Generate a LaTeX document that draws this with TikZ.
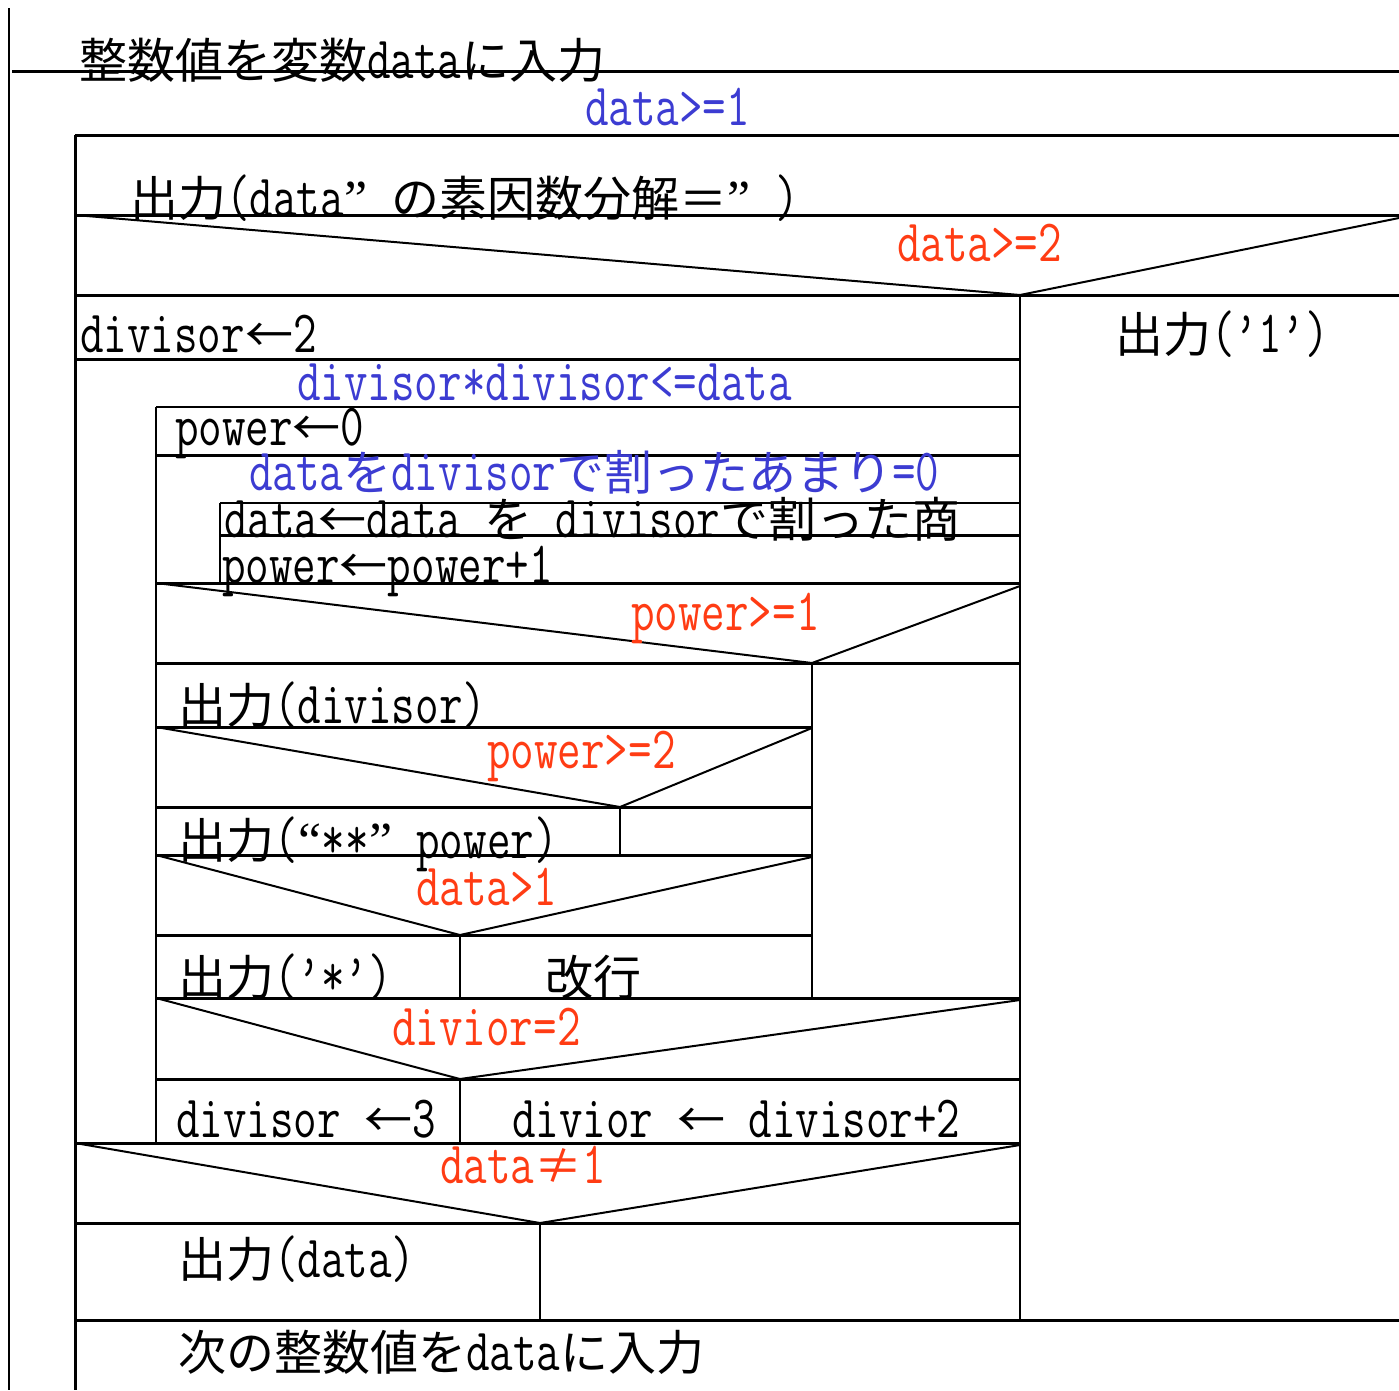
\documentclass[tikz,border=0pt]{standalone}
\usepackage{fontspec}
\newfontfamily\jpfont{Noto Sans CJK JP}
\newfontfamily\ltfont[FakeStretch=0.762]{Latin Modern Mono}
\newfontfamily\qtfont{Liberation Serif}
\newcommand\JpTxt[1]{{\jpfont\fontsize{48}{48}\selectfont #1}}
\newcommand\LatTxt[1]{{\ltfont\fontsize{60}{60}\selectfont #1}}
\newcommand\QtTxt[1]{\makebox[24pt]{\qtfont\fontsize{52}{52}\selectfont #1}}
\definecolor{nsblue}{RGB}{60,60,210}
\definecolor{nsred}{RGB}{255,60,20}
\tikzset{
  hl/.style={line width=3pt},
  vl/.style={line width=2pt},
  dg/.style={line width=2pt},
  txt/.style={inner sep=0pt, anchor=base west},
  cblue/.style={txt, text=nsblue},
  cred/.style={txt, text=nsred}
}
\begin{document}
\begin{tikzpicture}[x=1pt,y=-1pt]
\useasboundingbox (0,0) rectangle (1399,1390);
% horizontal lines
\draw[hl] (12,71)--(1399,71);
\draw[hl] (75,135)--(1399,135);
\draw[hl] (75,215)--(1399,215);
\draw[hl] (75,295)--(1399,295);
\draw[hl] (75,359)--(1020,359);
\draw[vl] (156,407)--(1020,407);
\draw[hl] (156,455)--(1020,455);
\draw[vl] (220,503)--(1020,503);
\draw[hl] (220,535)--(1020,535);
\draw[hl] (156,583)--(1020,583);
\draw[hl] (156,663)--(1020,663);
\draw[hl] (156,727)--(812,727);
\draw[hl] (156,807)--(812,807);
\draw[hl] (156,855)--(812,855);
\draw[hl] (156,935)--(812,935);
\draw[hl] (156,998)--(1020,998);
\draw[hl] (156,1079)--(1020,1079);
\draw[hl] (75,1143)--(1020,1143);
\draw[hl] (75,1223)--(1020,1223);
\draw[hl] (75,1320)--(1399,1320);
% vertical lines
\draw[vl] (9,8)--(9,1390);
\draw[hl] (75,135)--(75,1390);
\draw[vl] (1020,295)--(1020,1320);
\draw[vl] (156,407)--(156,1143);
\draw[vl] (220,503)--(220,583);
\draw[vl] (812,663)--(812,998);
\draw[vl] (620,807)--(620,855);
\draw[vl] (460,935)--(460,998);
\draw[vl] (460,1079)--(460,1143);
\draw[vl] (540,1223)--(540,1320);
% decision diagonals
\draw[dg] (75,215)--(1020,295)--(1399,218);
\draw[dg] (156,583)--(812,663)--(1020,586);
\draw[dg] (156,727)--(620,807)--(812,728);
\draw[dg] (156,855)--(460,935)--(812,857);
\draw[dg] (156,998)--(460,1079)--(1020,1000);
\draw[dg] (75,1143)--(540,1223)--(1020,1145);
% texts
\node[txt] (t1) at (79,78) {\JpTxt{整数値を変数}\LatTxt{data}\JpTxt{に入力}};
\node[cblue] (t2) at (585,125) {\LatTxt{data>=1}};
\node[txt] (t3) at (130,216) {\JpTxt{出力}\LatTxt{(data}\QtTxt{”}\LatTxt{ }\JpTxt{の素因数分解＝}\QtTxt{”}\LatTxt{ )}};
\node[cred] (t4) at (897,261) {\LatTxt{data>=2}};
\node[txt] (t5) at (80,352) {\LatTxt{divisor}\JpTxt{←}\LatTxt{2}};
\node[txt] (t6) at (1115,352) {\JpTxt{出力}\LatTxt{(’1’)}};
\node[cblue] (t7) at (297,400) {\LatTxt{divisor*divisor<=data}};
\node[txt] (t8) at (175,445) {\LatTxt{power}\JpTxt{←}\LatTxt{0}};
\node[cblue] (t9) at (249,490) {\LatTxt{data}\JpTxt{を}\LatTxt{divisor}\JpTxt{で割ったあまり}\LatTxt{=0}};
\node[txt] (t10) at (224,537) {\LatTxt{data}\JpTxt{←}\LatTxt{data }\JpTxt{を}\LatTxt{ divisor}\JpTxt{で割った商}};
\node[txt] (t11) at (222,583) {\LatTxt{power}\JpTxt{←}\LatTxt{power+1}};
\node[cred] (t12) at (631,630) {\LatTxt{power>=1}};
\node[txt] (t13) at (178,723) {\JpTxt{出力}\LatTxt{(divisor)}};
\node[cred] (t14) at (487,768) {\LatTxt{power>=2}};
\node[txt] (t15) at (178,858) {\JpTxt{出力}\LatTxt{(}\QtTxt{“}\LatTxt{**}\QtTxt{”}\LatTxt{ power)}};
\node[cred] (t16) at (416,905) {\LatTxt{data>1}};
\node[txt] (t17) at (178,995) {\JpTxt{出力}\LatTxt{(’*’)}};
\node[txt] (t18) at (545,995) {\JpTxt{改行}};
\node[cred] (t19) at (392,1045) {\LatTxt{divior=2}};
\node[txt] (t20) at (176,1137) {\LatTxt{divisor }\JpTxt{←}\LatTxt{3}};
\node[txt] (t21) at (512,1137) {\LatTxt{divior }\JpTxt{←}\LatTxt{ divisor+2}};
\node[cred] (t22) at (440,1183) {\LatTxt{data}\JpTxt{≠}\LatTxt{1}};
\node[txt] (t23) at (178,1277) {\JpTxt{出力}\LatTxt{(data)}};
\node[txt] (t24) at (178,1370) {\JpTxt{次の整数値を}\LatTxt{data}\JpTxt{に入力}};
\end{tikzpicture}
\end{document}
